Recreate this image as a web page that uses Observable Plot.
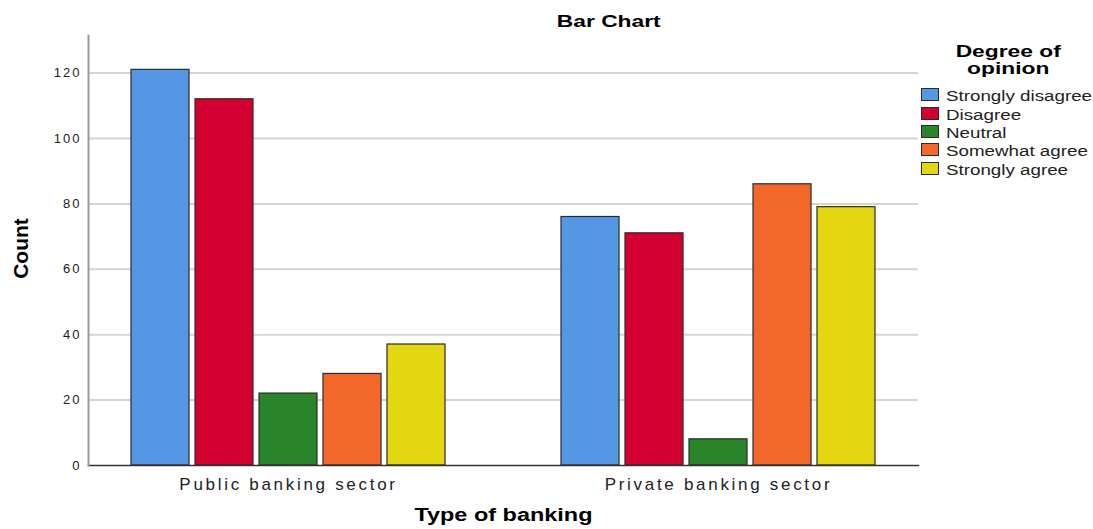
<!DOCTYPE html>
<html>
<head>
<meta charset="utf-8">
<script src="https://cdn.jsdelivr.net/npm/d3@7"></script>
<script src="https://cdn.jsdelivr.net/npm/@observablehq/plot@0.6"></script>
<style>
  html, body { margin: 0; padding: 0; background: #fff; }
  #wrap { position: relative; width: 1093px; height: 529px; overflow: hidden; font-family: "Liberation Sans", Arial, sans-serif; color: #000; }
  #wrap svg { position: absolute; left: 0; top: 0; }
  .ov { position: absolute; white-space: nowrap; }
  .bold { font-weight: bold; }
  .sw { position: absolute; box-sizing: border-box; border: 1px solid #2b2b2b; }
</style>
</head>
<body>
<div id="wrap"></div>
<script>
// ---- data ----
const sectors = ["Public banking sector", "Private banking sector"];
const opinions = ["Strongly disagree", "Disagree", "Neutral", "Somewhat agree", "Strongly agree"];
const publicCounts = [121, 112, 22, 28, 37];
const privateCounts = [76, 71, 8, 86, 79];
const opinionColors = ["#5596e5", "#d50032", "#2a8429", "#f2682b", "#e2d710"];
const yTicks = [0, 20, 40, 60, 80, 100, 120];
const chartTitle = "Bar Chart";
const xTitle = "Type of banking";
const yTitle = "Count";
const legendTitle = ["Degree of", "opinion"];

const table = [
  ...opinions.map((o, i) => ({sector: sectors[0], opinion: o, count: publicCounts[i]})),
  ...opinions.map((o, i) => ({sector: sectors[1], opinion: o, count: privateCounts[i]}))
];
const gridLeft = yTicks.filter(d => d > 0).map(v => ({sector: sectors[0], v}));
const gridRight = yTicks.filter(d => d > 0).map(v => ({sector: sectors[1], v}));

const wrap = document.getElementById("wrap");

const chart = Plot.plot({
  width: 1093,
  height: 529,
  marginLeft: 88,
  marginRight: 175,
  marginTop: 35,
  marginBottom: 64,
  style: {fontFamily: "Liberation Sans, Arial, sans-serif", color: "#333", background: "transparent", overflow: "visible"},
  fx: {domain: sectors, paddingInner: 0.0698, paddingOuter: 0, label: null},
  x: {domain: opinions, paddingInner: 0.094, paddingOuter: 0.672, axis: null},
  y: {domain: [0, 131.5], label: null},
  color: {domain: opinions, range: opinionColors},
  marks: [
    Plot.ruleY(gridLeft, {fx: "sector", y: "v", stroke: "#d4d4d4", strokeWidth: 2, insetRight: -15}),
    Plot.ruleY(gridRight, {fx: "sector", y: "v", stroke: "#d4d4d4", strokeWidth: 2, insetLeft: -15}),
    Plot.barY(table, {fx: "sector", x: "opinion", y: "count", fill: "opinion", stroke: "#2b2b2b", strokeWidth: 1.2}),
    Plot.frame({anchor: "bottom", stroke: "#333", strokeWidth: 1.5, facet: "super"}),
    Plot.frame({anchor: "left", stroke: "#9a9a9a", strokeWidth: 2, facet: "super"}),
    Plot.axisY({ticks: yTicks, tickSize: 0, tickPadding: 7, fontSize: 13, label: null, fill: "#222"}),
    Plot.axisFx({anchor: "bottom", tickSize: 0, tickPadding: 12, fontSize: 17, label: null, fill: "#222"})
  ]
});
wrap.appendChild(chart);

// letter spacing on tick text
chart.querySelectorAll("g[aria-label='y-axis tick label']").forEach(g => {
  g.style.letterSpacing = "2px";
  g.querySelectorAll("text").forEach(t => t.style.letterSpacing = "2px");
});
chart.querySelectorAll("g[aria-label='fx-axis tick label']").forEach(g => {
  g.style.letterSpacing = "2.7px";
  g.querySelectorAll("text").forEach(t => t.style.letterSpacing = "2.7px");
});

// ---- overlays (title, axis titles, legend) ----
const SX = 1.34;
function addText(txt, {x, top, size, bold = false, anchor = "start", family, lh}) {
  const d = document.createElement("div");
  d.className = "ov" + (bold ? " bold" : "");
  d.textContent = txt;
  d.style.fontSize = size + "px";
  d.style.lineHeight = (lh || size) + "px";
  if (family) d.style.fontFamily = family;
  d.style.top = top + "px";
  if (anchor === "middle") { d.style.textAlign = "center"; d.style.whiteSpace = "pre"; }
  wrap.appendChild(d);
  const w = d.getBoundingClientRect().width;
  if (anchor === "middle") {
    d.style.left = (x - w / 2) + "px";
    d.style.transformOrigin = "50% 50%";
  } else {
    d.style.left = x + "px";
    d.style.transformOrigin = "0 50%";
  }
  d.style.transform = `scaleX(${SX})`;
  return d;
}

addText(chartTitle, {x: 608.5, top: 12.9, size: 17, bold: true, anchor: "middle"});
addText(xTitle, {x: 503, top: 506.9, size: 17.5, bold: true, anchor: "middle"});

// y title (rotated)
const yt = document.createElement("div");
yt.className = "ov bold";
yt.textContent = yTitle;
yt.style.fontFamily = "'Liberation Sans Narrow', 'Liberation Sans', Arial, sans-serif";
yt.style.fontSize = "21px";
yt.style.lineHeight = "21px";
wrap.appendChild(yt);
const ytr = yt.getBoundingClientRect();
yt.style.left = (20 - ytr.width / 2) + "px";
yt.style.top = (248.5 - ytr.height / 2) + "px";
yt.style.transformOrigin = "50% 50%";
yt.style.transform = "rotate(-90deg)";

// legend
addText(legendTitle.join("\n"), {x: 1008, top: 44.3, size: 17, bold: true, anchor: "middle", lh: 16.2});
opinions.forEach((o, i) => {
  const top = 88.3 + i * 18.35;
  const s = document.createElement("div");
  s.className = "sw";
  s.style.left = "921px";
  s.style.top = top + "px";
  s.style.width = "18px";
  s.style.height = "13px";
  s.style.background = opinionColors[i];
  wrap.appendChild(s);
  addText(o, {x: 946, top: top + 0.9, size: 14, anchor: "start"}).style.color = "#222";
});
</script>
</body>
</html>
